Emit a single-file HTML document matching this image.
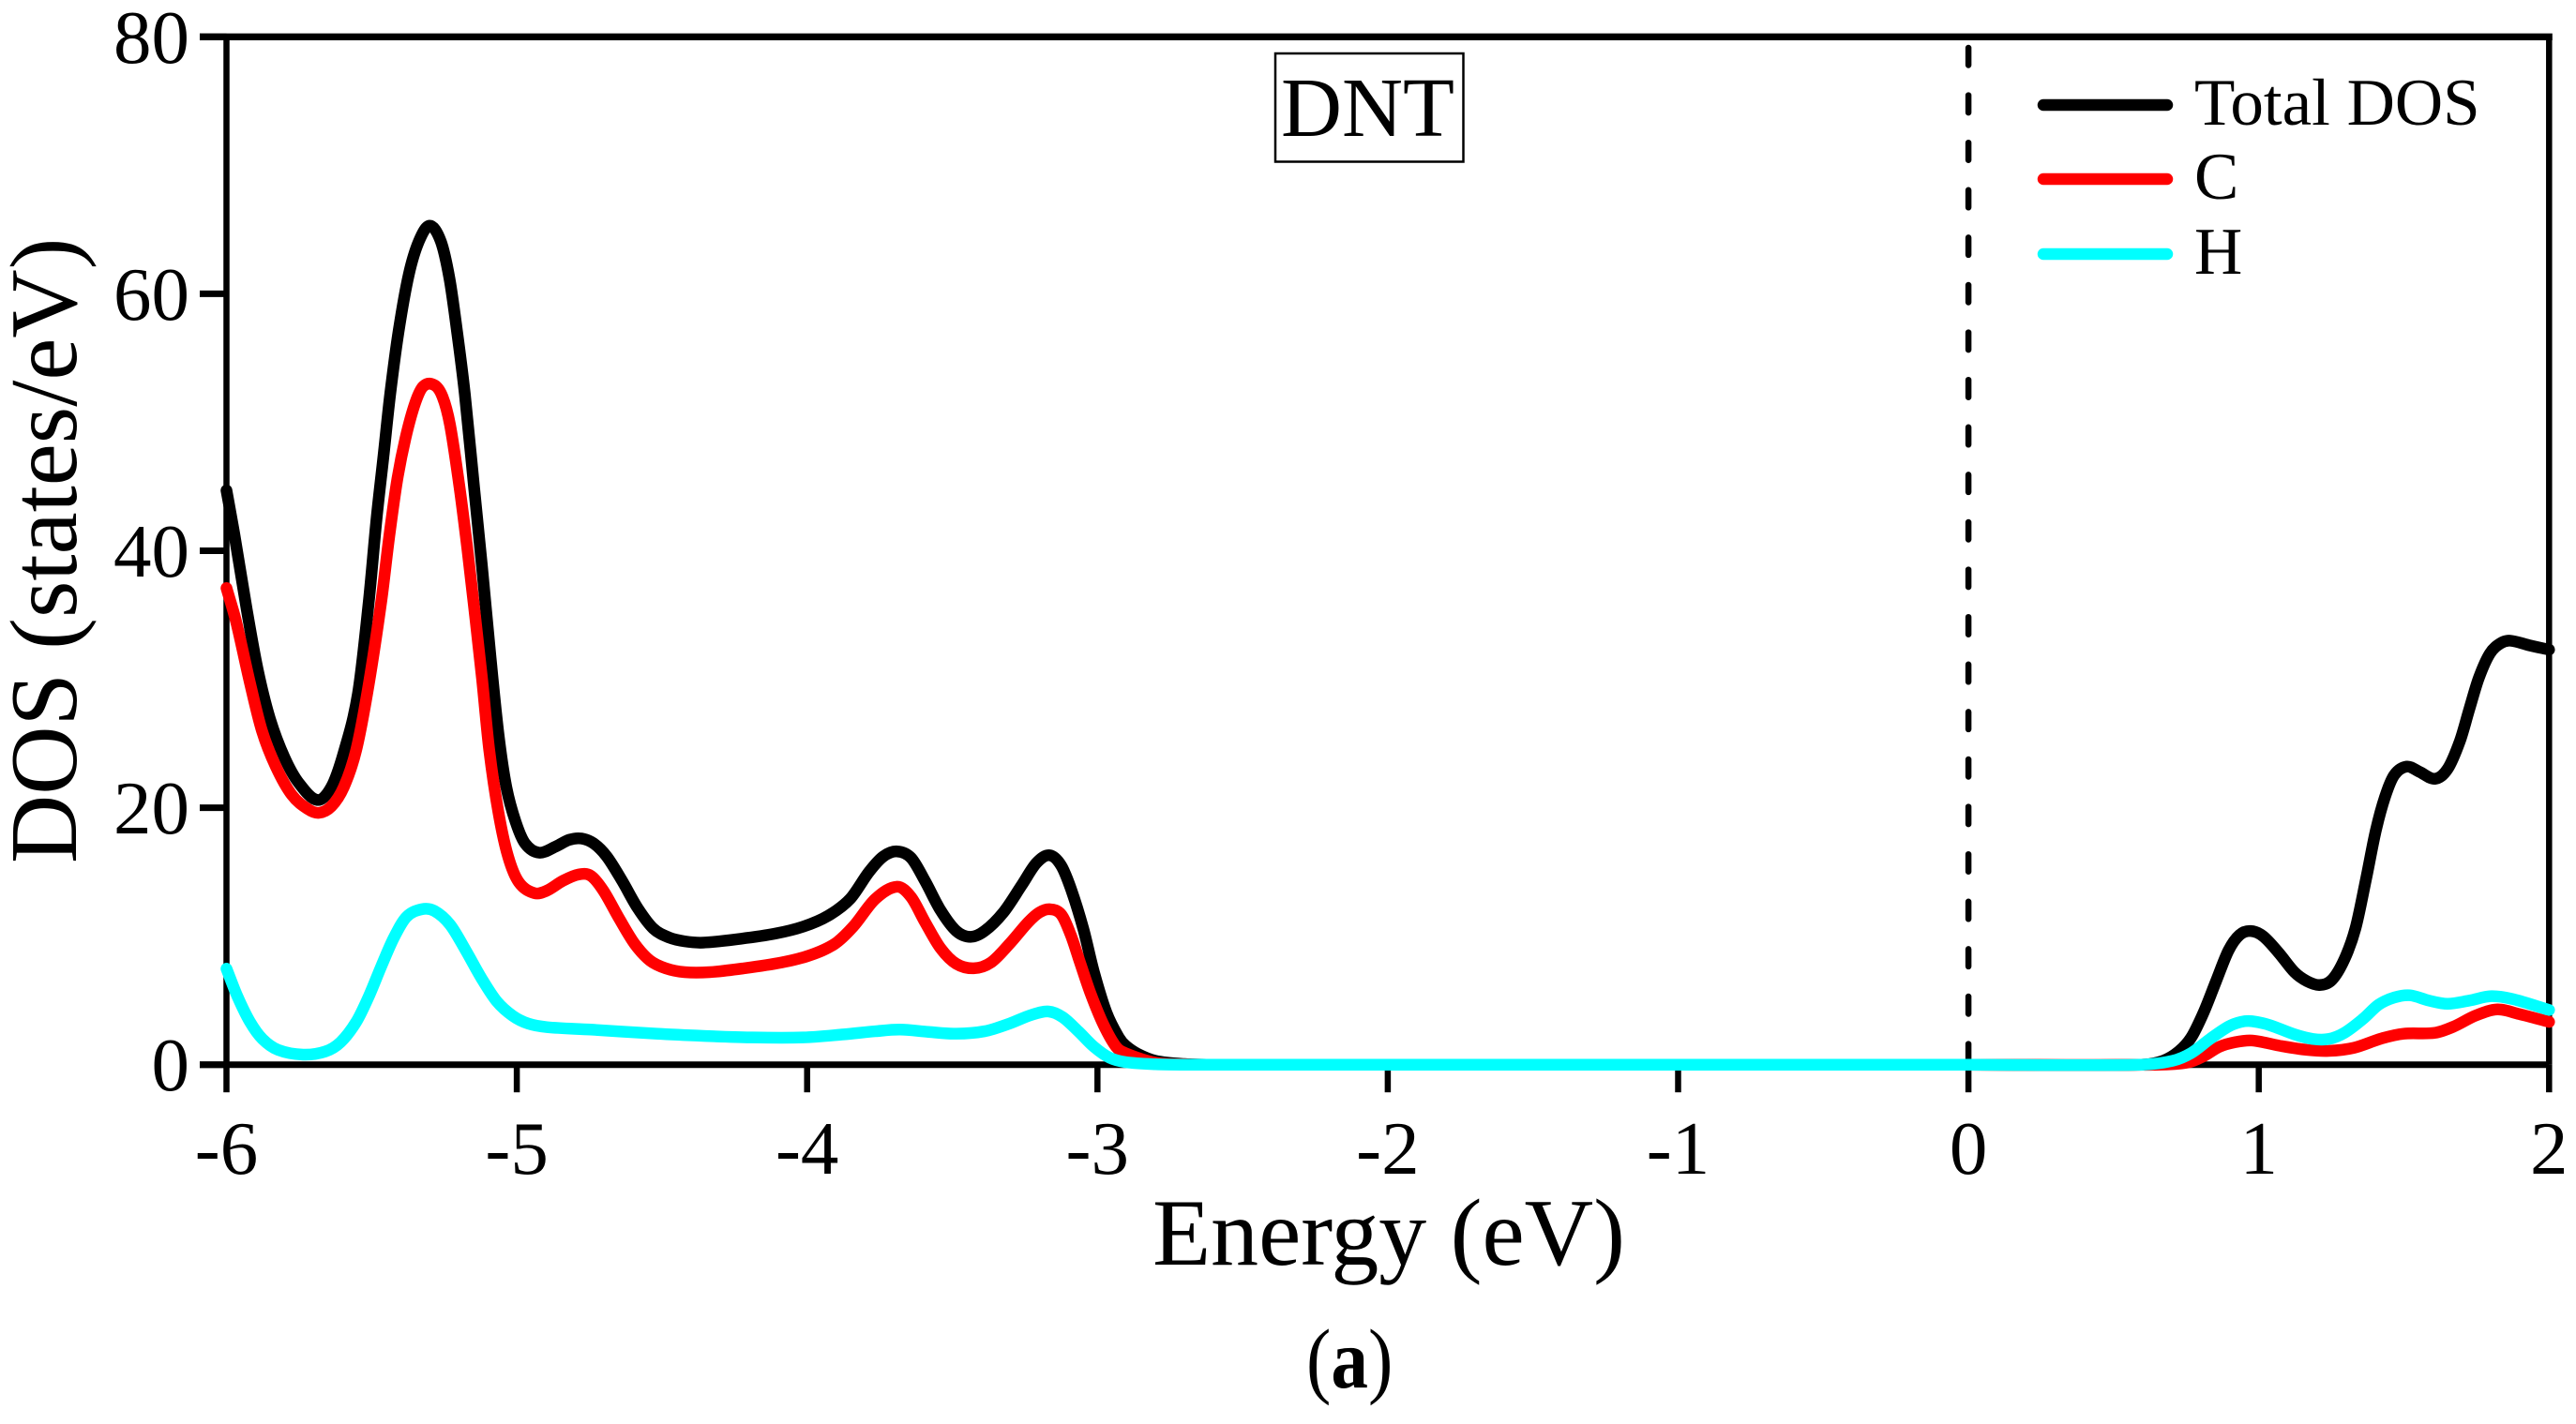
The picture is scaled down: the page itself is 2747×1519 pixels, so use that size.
<!DOCTYPE html>
<html lang="en">
<head>
<meta charset="utf-8">
<title>DNT density of states</title>
<style>
  html, body { margin: 0; padding: 0; background: #fff; }
  svg { display: block; }
  text { font-family: "Liberation Serif", serif; fill: #000; }
</style>
</head>
<body>
<svg id="chart" xmlns="http://www.w3.org/2000/svg" width="2747" height="1519" viewBox="0 0 2747 1519">
  <rect x="0" y="0" width="2747" height="1519" fill="#fff"/>
  <g id="frame"></g>
  <g id="ticks"></g>
  <g id="tick-labels"></g>
  <text transform="translate(81 921) rotate(-90)" font-size="101.4">DOS (states/eV)</text>
  <text x="1229" y="1349" font-size="101.8">Energy (eV)</text>
  <text transform="translate(1393 1480) scale(0.88 1)" font-size="90">(<tspan font-weight="bold">a</tspan>)</text>
  <rect x="1360" y="57" width="200.5" height="115.5" fill="none" stroke="#000" stroke-width="2.5"/>
  <text x="1366" y="145" font-size="90">DNT</text>
  <g id="fermi"></g>
  <g id="series"></g>
  <g>
    <line x1="2179" y1="112" x2="2311" y2="112" stroke="#000" stroke-width="12.5" stroke-linecap="round"/>
    <text x="2340" y="133" font-size="71">Total DOS</text>
    <line x1="2179" y1="191" x2="2311" y2="191" stroke="#f00" stroke-width="12.5" stroke-linecap="round"/>
    <text x="2340" y="212" font-size="71">C</text>
    <line x1="2179" y1="271" x2="2311" y2="271" stroke="#0ff" stroke-width="12.5" stroke-linecap="round"/>
    <text x="2340" y="292" font-size="71">H</text>
  </g>
</svg>
<script>
var xTickValues = [-6, -5, -4, -3, -2, -1, 0, 1, 2];
var xTickLabels = ['-6', '-5', '-4', '-3', '-2', '-1', '0', '1', '2'];
var yTickValues = [0, 20, 40, 60, 80];
var yTickLabels = ['0', '20', '40', '60', '80'];
var fermiEnergy = 0;

var totalEnergy = [-6,-5.973,-5.93,-5.892,-5.85,-5.8,-5.75,-5.687,-5.639,-5.596,-5.547,-5.51,-5.483,-5.459,-5.436,-5.407,-5.372,-5.337,-5.3,-5.262,-5.232,-5.206,-5.179,-5.147,-5.12,-5.09,-5.063,-5.036,-5.004,-4.971,-4.923,-4.864,-4.82,-4.777,-4.734,-4.69,-4.637,-4.584,-4.53,-4.476,-4.422,-4.358,-4.229,-4.11,-4.013,-3.927,-3.852,-3.787,-3.738,-3.69,-3.642,-3.594,-3.54,-3.486,-3.437,-3.389,-3.324,-3.26,-3.21,-3.165,-3.125,-3.09,-3.049,-3.012,-2.969,-2.926,-2.904,-2.862,-2.8,-2.7,-2.6,-1,0,0.595,0.67,0.724,0.767,0.81,0.853,0.896,0.934,0.972,1.015,1.069,1.123,1.166,1.209,1.252,1.295,1.333,1.37,1.403,1.435,1.467,1.51,1.553,1.607,1.65,1.693,1.725,1.758,1.796,1.833,1.866,1.93,2];
var totalDos = [44.7,41.3,35.4,30.7,26.9,23.9,21.9,20.6,21.6,24.3,28.9,36,42.5,47.4,52.2,57.1,61.5,64.1,65.3,64.1,61.2,57.1,52.2,44.9,38.8,31.6,25.7,21.6,18.9,17.2,16.5,17,17.5,17.6,17.2,16.2,14.3,12.2,10.6,9.9,9.6,9.5,9.8,10.2,10.75,11.6,12.9,15,16.2,16.6,16.1,14.3,12,10.4,9.95,10.4,11.85,14,15.7,16.3,15.5,13.6,10.6,7.2,4.06,2.1,1.5,0.85,0.3,0.05,0,0,0,0,0.3,1.02,2.1,4.06,6.5,8.9,10.1,10.4,10,8.7,7.2,6.5,6.2,6.6,8.2,10.6,14.5,18.2,20.85,22.55,23.2,22.8,22.25,23,25.2,27.65,30.1,32,32.8,33,32.65,32.3];

var carbonEnergy = [-6,-5.967,-5.92,-5.878,-5.83,-5.775,-5.72,-5.682,-5.639,-5.596,-5.553,-5.51,-5.466,-5.44,-5.412,-5.383,-5.35,-5.322,-5.284,-5.256,-5.23,-5.197,-5.17,-5.145,-5.12,-5.095,-5.063,-5.03,-4.993,-4.939,-4.896,-4.842,-4.788,-4.745,-4.702,-4.648,-4.594,-4.541,-4.487,-4.422,-4.336,-4.218,-4.089,-3.992,-3.905,-3.841,-3.765,-3.69,-3.642,-3.594,-3.54,-3.486,-3.426,-3.367,-3.303,-3.238,-3.2,-3.165,-3.125,-3.092,-3.06,-3.023,-2.979,-2.936,-2.904,-2.8,-2.7,-2.6,-1,0,0.65,0.756,0.81,0.864,0.918,0.977,1.08,1.166,1.241,1.327,1.423,1.499,1.607,1.672,1.747,1.822,1.897,2];
var carbonDos = [37.1,34.5,29.8,26,23.2,21,19.9,19.6,20.1,21.6,24.5,29.6,36.2,41,45.5,48.8,51.5,52.8,52.9,52,49.8,44.9,40.1,35.2,30.1,24.5,19.6,16.2,14.2,13.35,13.55,14.3,14.8,14.7,13.55,11.4,9.4,8.1,7.5,7.2,7.2,7.5,7.95,8.5,9.4,10.75,12.9,13.85,13.05,11.1,9.05,7.85,7.5,7.95,9.4,11.1,11.85,12.1,11.7,10.1,7.95,5.5,3.1,1.4,0.9,0.15,0.02,0,0,0,0,0.17,0.66,1.39,1.75,1.88,1.44,1.15,1.07,1.31,2.04,2.41,2.48,2.97,3.82,4.3,3.94,3.33];

var hydrogenEnergy = [-6,-5.962,-5.919,-5.876,-5.822,-5.736,-5.66,-5.607,-5.553,-5.51,-5.466,-5.423,-5.38,-5.327,-5.284,-5.23,-5.176,-5.122,-5.068,-5.014,-4.961,-4.896,-4.745,-4.52,-4.358,-4.196,-4.013,-3.873,-3.765,-3.68,-3.582,-3.486,-3.389,-3.303,-3.228,-3.168,-3.12,-3.066,-3.012,-2.958,-2.904,-2.8,-2.7,-1,0,0.595,0.703,0.767,0.832,0.896,0.939,0.977,1.036,1.123,1.187,1.241,1.295,1.36,1.413,1.467,1.521,1.586,1.65,1.725,1.801,1.876,2];
var hydrogenDos = [7.47,5.3,3.33,2,1.15,0.78,1.02,1.75,3.33,5.3,7.7,9.9,11.5,12.1,11.97,10.9,8.9,6.74,4.9,3.8,3.2,2.92,2.73,2.41,2.24,2.12,2.12,2.36,2.6,2.73,2.55,2.41,2.6,3.2,3.87,4.14,3.7,2.6,1.39,0.54,0.2,0.03,0,0,0,0,0.3,0.9,2,2.97,3.33,3.38,3.09,2.36,2,2,2.48,3.58,4.67,5.23,5.4,4.99,4.74,4.99,5.33,5.1,4.26];

var SVG_NS = 'http://www.w3.org/2000/svg';
function xScale(e) { return 241.5 + (e + 6) * 309.6; }
function yScale(v) { return 1135.7 - v * 13.705; }

function smoothPath(es, vs) {
  var p = [];
  for (var i = 0; i < es.length; i++) { p.push([xScale(es[i]), yScale(vs[i])]); }
  var d = 'M' + p[0][0].toFixed(2) + ' ' + p[0][1].toFixed(2);
  for (var j = 0; j < p.length - 1; j++) {
    var a = p[Math.max(j - 1, 0)], b = p[j], c = p[j + 1], n = p[Math.min(j + 2, p.length - 1)];
    var segLen = c[0] - b[0];
    var t1 = (c[1] - a[1]) / Math.max(c[0] - a[0], 0.001);
    var t2 = (n[1] - b[1]) / Math.max(n[0] - b[0], 0.001);
    d += 'C' + (b[0] + segLen / 3).toFixed(2) + ' ' + (b[1] + t1 * segLen / 3).toFixed(2) + ' ' +
         (c[0] - segLen / 3).toFixed(2) + ' ' + (c[1] - t2 * segLen / 3).toFixed(2) + ' ' +
         c[0].toFixed(2) + ' ' + c[1].toFixed(2);
  }
  return d;
}

var frame = document.getElementById('frame');
var frameTop = document.createElementNS(SVG_NS, 'line');


frameTop.setAttribute('x1', 213); frameTop.setAttribute('x2', xScale(2) + 3.5);
frameTop.setAttribute('y1', yScale(80)); frameTop.setAttribute('y2', yScale(80));
frameTop.setAttribute('stroke', '#000'); frameTop.setAttribute('stroke-width', 7.3);
frame.appendChild(frameTop);

var frameBottom = document.createElementNS(SVG_NS, 'line');


frameBottom.setAttribute('x1', 213); frameBottom.setAttribute('x2', xScale(2));
frameBottom.setAttribute('y1', yScale(0)); frameBottom.setAttribute('y2', yScale(0));
frameBottom.setAttribute('stroke', '#000'); frameBottom.setAttribute('stroke-width', 7);
frame.appendChild(frameBottom);

var frameLeft = document.createElementNS(SVG_NS, 'line');


frameLeft.setAttribute('x1', xScale(-6)); frameLeft.setAttribute('x2', xScale(-6));
frameLeft.setAttribute('y1', yScale(80)); frameLeft.setAttribute('y2', yScale(0));
frameLeft.setAttribute('stroke', '#000'); frameLeft.setAttribute('stroke-width', 6.5);
frame.appendChild(frameLeft);

var frameRight = document.createElementNS(SVG_NS, 'line');


frameRight.setAttribute('x1', xScale(2)); frameRight.setAttribute('x2', xScale(2));
frameRight.setAttribute('y1', yScale(80)); frameRight.setAttribute('y2', yScale(0));
frameRight.setAttribute('stroke', '#000'); frameRight.setAttribute('stroke-width', 6.5);
frame.appendChild(frameRight);

var ticks = document.getElementById('ticks');
var tickLabels = document.getElementById('tick-labels');

xTickValues.forEach(function (val, i) {
  var t = document.createElementNS(SVG_NS, 'line');
  
  
  t.setAttribute('x1', xScale(val)); t.setAttribute('x2', xScale(val));
  t.setAttribute('y1', yScale(0)); t.setAttribute('y2', yScale(0) + 29.5);
  t.setAttribute('stroke', '#000'); t.setAttribute('stroke-width', 6.5);
  ticks.appendChild(t);
  var l = document.createElementNS(SVG_NS, 'text');
  
  
  l.setAttribute('x', xScale(val)); l.setAttribute('y', 1252);
  l.setAttribute('text-anchor', 'middle'); l.setAttribute('font-size', 81);
  l.textContent = xTickLabels[i];
  tickLabels.appendChild(l);
});

yTickValues.forEach(function (val, i) {
  var t = document.createElementNS(SVG_NS, 'line');
  
  
  t.setAttribute('x1', 213); t.setAttribute('x2', xScale(-6));
  t.setAttribute('y1', yScale(val)); t.setAttribute('y2', yScale(val));
  t.setAttribute('stroke', '#000'); t.setAttribute('stroke-width', 7);
  ticks.appendChild(t);
  var l = document.createElementNS(SVG_NS, 'text');
  
  
  l.setAttribute('x', 202); l.setAttribute('y', yScale(val) + 27.5);
  l.setAttribute('text-anchor', 'end'); l.setAttribute('font-size', 81);
  l.textContent = yTickLabels[i];
  tickLabels.appendChild(l);
});

var fermi = document.createElementNS(SVG_NS, 'line');


fermi.setAttribute('x1', xScale(fermiEnergy)); fermi.setAttribute('x2', xScale(fermiEnergy));
fermi.setAttribute('y1', 51); fermi.setAttribute('y2', yScale(0));
fermi.setAttribute('stroke', '#000'); fermi.setAttribute('stroke-width', 6.5);
fermi.setAttribute('stroke-linecap', 'round');
fermi.setAttribute('stroke-dasharray', '18.5 32.1');
document.getElementById('fermi').appendChild(fermi);

var seriesGroup = document.getElementById('series');

var totalLine = document.createElementNS(SVG_NS, 'path');


totalLine.setAttribute('d', smoothPath(totalEnergy, totalDos));
totalLine.setAttribute('fill', 'none'); totalLine.setAttribute('stroke', '#000');
totalLine.setAttribute('stroke-width', 12.5); totalLine.setAttribute('stroke-linecap', 'round');
totalLine.setAttribute('stroke-linejoin', 'round');
seriesGroup.appendChild(totalLine);

var carbonLine = document.createElementNS(SVG_NS, 'path');


carbonLine.setAttribute('d', smoothPath(carbonEnergy, carbonDos));
carbonLine.setAttribute('fill', 'none'); carbonLine.setAttribute('stroke', '#f00');
carbonLine.setAttribute('stroke-width', 12.5); carbonLine.setAttribute('stroke-linecap', 'round');
carbonLine.setAttribute('stroke-linejoin', 'round');
seriesGroup.appendChild(carbonLine);

var hydrogenLine = document.createElementNS(SVG_NS, 'path');


hydrogenLine.setAttribute('d', smoothPath(hydrogenEnergy, hydrogenDos));
hydrogenLine.setAttribute('fill', 'none'); hydrogenLine.setAttribute('stroke', '#0ff');
hydrogenLine.setAttribute('stroke-width', 12.5); hydrogenLine.setAttribute('stroke-linecap', 'round');
hydrogenLine.setAttribute('stroke-linejoin', 'round');
seriesGroup.appendChild(hydrogenLine);
</script>
</body>
</html>
